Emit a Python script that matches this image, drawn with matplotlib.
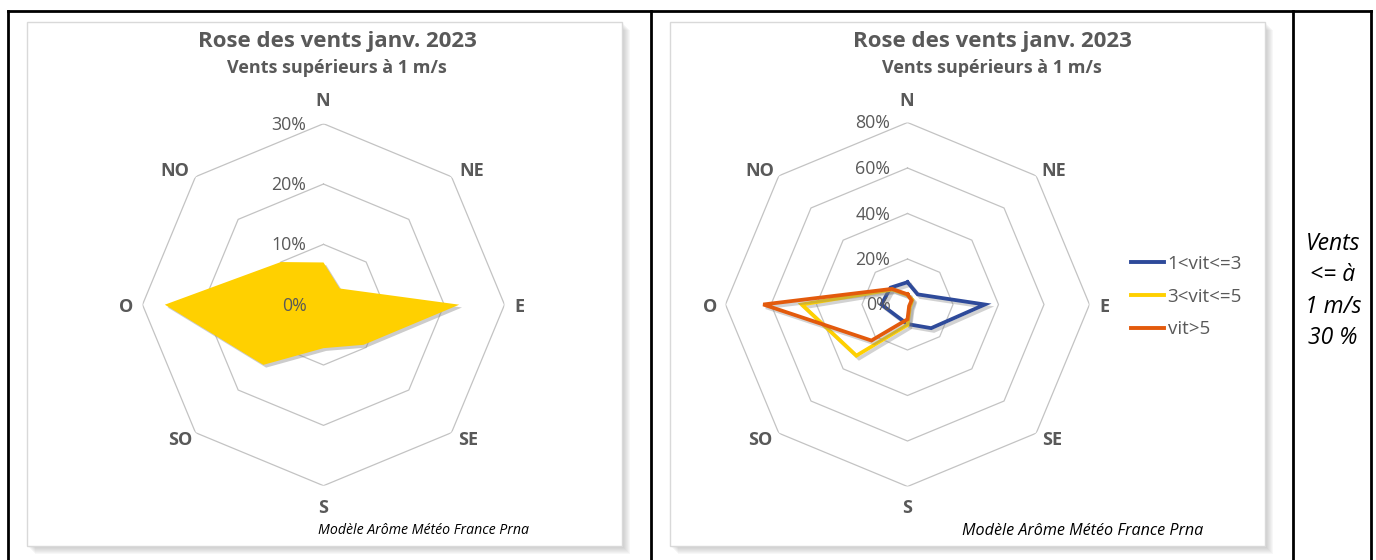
import numpy as np
import matplotlib
matplotlib.use("Agg")
import matplotlib.pyplot as plt
from matplotlib.patches import Rectangle
from matplotlib.lines import Line2D
from matplotlib import transforms
import matplotlib.patheffects as pe

# ---------------- data ----------------
directions = ['N', 'NE', 'E', 'SE', 'S', 'SO', 'O', 'NO']
all_winds = [7.0, 3.8, 22.5, 9.4, 7.2, 14.1, 26.3, 10.0]          # left chart (%)
speed_labels = ['1<vit<=3', '3<vit<=5', 'vit>5']
speed_1_3 = [9.8, 6.3, 34.0, 14.7, 8.6, 7.0, 11.5, 10.5]           # right chart (%)
speed_3_5 = [4.2, 3.0, 1.5, 1.5, 9.0, 31.8, 46.5, 9.3]
speed_5p = [4.5, 2.5, 1.0, 1.0, 6.5, 22.4, 63.4, 9.7]
left_ticks = [0, 10, 20, 30]
right_ticks = [0, 20, 40, 60, 80]
title = 'Rose des vents janv. 2023'
subtitle = 'Vents supérieurs à 1 m/s'
source = 'Modèle Arôme Météo France Prna'
side_note = ['Vents', '<= à', '1 m/s', '30 %']

W, H = 1376, 560
plt.rcParams['font.family'] = ['Open Sans', 'DejaVu Sans']
fig = plt.figure(figsize=(W / 100, H / 100), dpi=100)
fig.patch.set_facecolor('white')

GREY_TXT = '#595959'
RING = '#c3c3c3'


def fx(x):
    return x / W


def fy(y):
    return 1 - y / H


# ---------------- table borders ----------------
for (x0, y0, x1, y1) in [(8, 11, 1371, 11), (8, 11, 8, 562), (651, 11, 651, 562),
                         (1293, 11, 1293, 562), (1371, 11, 1371, 562)]:
    fig.add_artist(Line2D([fx(x0), fx(x1)], [fy(y0), fy(y1)], color='black', lw=2.0,
                          transform=fig.transFigure, solid_capstyle='projecting'))


# ---------------- chart boxes with shadow ----------------
def chart_box(x0, y0, x1, y1):
    for k in range(1, 9):
        fig.add_artist(Rectangle((fx(x0 + k), fy(y1 + k)), (x1 - x0) / W, (y1 - y0) / H,
                                 transform=fig.transFigure, facecolor='#7f7f7f',
                                 alpha=0.055, edgecolor='none', zorder=-3))
    fig.add_artist(Rectangle((fx(x0), fy(y1)), (x1 - x0) / W, (y1 - y0) / H,
                             transform=fig.transFigure, facecolor='white',
                             edgecolor='#d9d9d9', lw=1.0, zorder=-2))


chart_box(27, 22, 622, 546)
chart_box(670, 22, 1265, 546)

thetas = np.deg2rad(np.arange(0, 360, 45))
thetas_c = np.append(thetas, thetas[0])


def radar_axes(cx, cy, rad_px, rmax):
    ax = fig.add_axes([fx(cx - rad_px), fy(cy + rad_px), 2 * rad_px / W, 2 * rad_px / H],
                      projection='polar')
    ax.set_theta_zero_location('N')
    ax.set_theta_direction(-1)
    ax.set_ylim(0, rmax)
    ax.grid(False)
    ax.set_xticks([])
    ax.set_yticks([])
    ax.spines['polar'].set_visible(False)
    ax.patch.set_alpha(0)
    return ax


def rings(ax, ticks):
    for t in ticks[1:]:
        ax.plot(thetas_c, [t] * len(thetas_c), color=RING, lw=0.9, zorder=1)
    off = transforms.offset_copy(ax.transData, fig=fig, x=-17, y=-1, units='dots')
    for t in ticks:
        ax.text(0, t, f'{t}%', transform=off, ha='right', va='center',
                fontsize=12.8, color=GREY_TXT, zorder=6)


def close(v):
    return list(v) + [v[0]]


def titles(cx):
    fig.text(fx(cx), fy(42), title, ha='center', va='center', fontsize=16,
             fontweight='bold', color=GREY_TXT)
    fig.text(fx(cx), fy(68), subtitle, ha='center', va='center', fontsize=13,
             fontweight='bold', color=GREY_TXT)


def dir_labels(pos):
    for d, (x, y) in zip(directions, pos):
        fig.text(fx(x), fy(y), d, ha='center', va='center', fontsize=13,
                 fontweight='bold', color=GREY_TXT)


# ---------------- left chart ----------------
axL = radar_axes(323.5, 304.7, 181, 30)
rings(axL, left_ticks)
axL.fill(thetas_c, close(all_winds), color='#FFD000', zorder=3, lw=0,
         path_effects=[pe.SimplePatchShadow(offset=(2, -2), shadow_rgbFace='#808080', alpha=0.4),
                       pe.Normal()])
titles(337)
dir_labels([(323, 101), (472, 171), (519, 307), (468, 440), (323, 508),
            (180, 440), (126, 307), (175, 171)])
fig.text(fx(423), fy(531), source, ha='center', va='center', fontsize=10.2,
         style='italic', color='black')

# ---------------- right chart ----------------
axR = radar_axes(907.5, 304.5, 182, 80)
rings(axR, right_ticks)
shadow = [pe.SimpleLineShadow(offset=(2, -2), shadow_color='#808080', alpha=0.35), pe.Normal()]
lines = []
for vals, col, lab in [(speed_1_3, '#2E4A9A', speed_labels[0]),
                       (speed_3_5, '#FFD000', speed_labels[1]),
                       (speed_5p, '#E35A0C', speed_labels[2])]:
    ln, = axR.plot(thetas_c, close(vals), color=col, lw=2.7, zorder=4, label=lab,
                   path_effects=shadow, solid_joinstyle='miter')
    lines.append(ln)
titles(992)
dir_labels([(907, 101), (1054, 171), (1104, 307), (1052, 440), (907, 508),
            (760, 440), (710, 307), (760, 171)])
fig.text(fx(1083), fy(531), source, ha='center', va='center', fontsize=11.6,
         style='italic', color='black')

leg = fig.legend(handles=lines, labels=speed_labels, loc='upper left',
                 bbox_to_anchor=(fx(1131), fy(255)), frameon=False, fontsize=13.5,
                 handlelength=1.75, handletextpad=0.2, labelspacing=0.78,
                 borderpad=0, borderaxespad=0, labelcolor=GREY_TXT)
for h in leg.legend_handles:
    h.set_path_effects([])
    h.set_linewidth(2.8)

# ---------------- side note ----------------
for i, s in enumerate(side_note):
    fig.text(fx(1333), fy(244 + 31.3 * i), s, ha='center', va='center', fontsize=16.5,
             style='italic', color='black')

fig.savefig('out.png', dpi=100, facecolor='white')
